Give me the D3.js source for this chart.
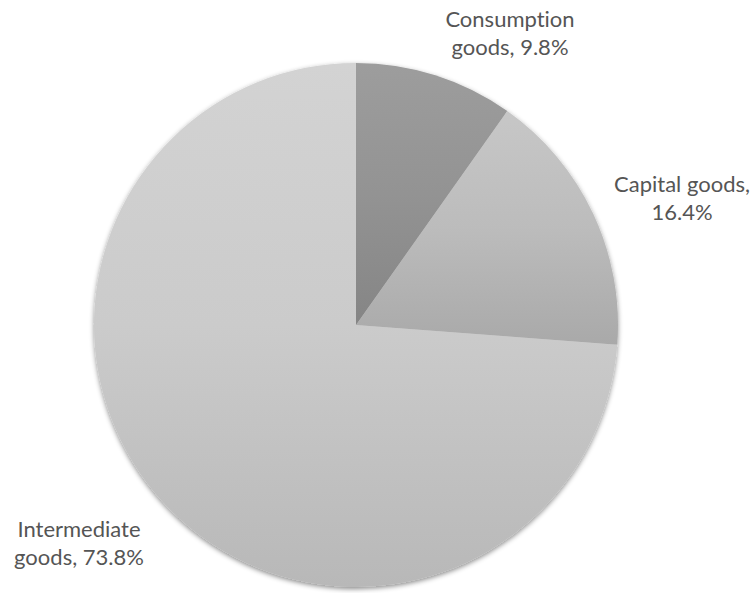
<!DOCTYPE html>
<html>
<head>
<meta charset="utf-8">
<script src="https://cdn.jsdelivr.net/npm/d3@7"></script>
<style>
  html, body { margin: 0; padding: 0; background: #fff; }
  svg { display: block; }
  .slice-label { font-variant-ligatures: none; font-feature-settings: "liga" 0; }
</style>
</head>
<body>
<svg id="chart" width="756" height="593"></svg>
<script>
// Share of imports by broad economic category (%)
const categories = ["Consumption goods", "Capital goods", "Intermediate goods"];
const shares = [9.8, 16.4, 73.8];
// Label lines for each slice
const labelLines = [
  ["Consumption", "goods, 9.8%"],
  ["Capital goods,", "16.4%"],
  ["Intermediate", "goods, 73.8%"]
];

// Gradient shades per slice: top, middle, bottom
const shades = [
  ["#9d9d9d", "#939393", "#858585"],
  ["#c7c7c7", "#bcbcbc", "#a9a9a9"],
  ["#d3d3d3", "#cbcbcb", "#b8b8b8"]
];

const svg = d3.select("#chart");
const cx = 356, cy = 325, radius = 262;

const defs = svg.append("defs");
const shadow = defs.append("filter")
  .attr("id", "pieShadow")
  .attr("x", "-10%").attr("y", "-10%")
  .attr("width", "120%").attr("height", "120%");
shadow.append("feDropShadow")
  .attr("dx", 0).attr("dy", 2)
  .attr("stdDeviation", 2.5)
  .attr("flood-color", "#000")
  .attr("flood-opacity", 0.45);

shades.forEach((s, i) => {
  const g = defs.append("linearGradient")
    .attr("id", "grad" + i)
    .attr("x1", 0).attr("y1", 0).attr("x2", 0).attr("y2", 1);
  g.append("stop").attr("offset", "0%").attr("stop-color", s[0]);
  g.append("stop").attr("offset", "50%").attr("stop-color", s[1]);
  g.append("stop").attr("offset", "100%").attr("stop-color", s[2]);
});

const pie = d3.pie().sort(null).value(d => d);
const arc = d3.arc().innerRadius(0).outerRadius(radius);
const arcs = pie(shares);

const g = svg.append("g")
  .attr("transform", `translate(${cx},${cy})`)
  .attr("filter", "url(#pieShadow)");

g.selectAll("path")
  .data(arcs)
  .join("path")
  .attr("d", arc)
  .attr("fill", (d, i) => `url(#grad${i})`);

// Slice labels, placed outside the pie
const labelPos = [
  { x: 510, y: 27, anchor: "middle" },
  { x: 682, y: 192, anchor: "middle" },
  { x: 79, y: 537, anchor: "middle" }
];

const labels = svg.append("g")
  .attr("class", "slice-label")
  .attr("font-family", "Lato, 'Open Sans', sans-serif")
  .attr("font-size", 22)
  .attr("fill", "#555555");

labelLines.forEach((lines, i) => {
  const p = labelPos[i];
  const t = labels.append("text")
    .attr("x", p.x).attr("y", p.y)
    .attr("text-anchor", p.anchor);
  lines.forEach((line, j) => {
    t.append("tspan")
      .attr("x", p.x)
      .attr("dy", j === 0 ? 0 : 28)
      .text(line);
  });
});
</script>
</body>
</html>
